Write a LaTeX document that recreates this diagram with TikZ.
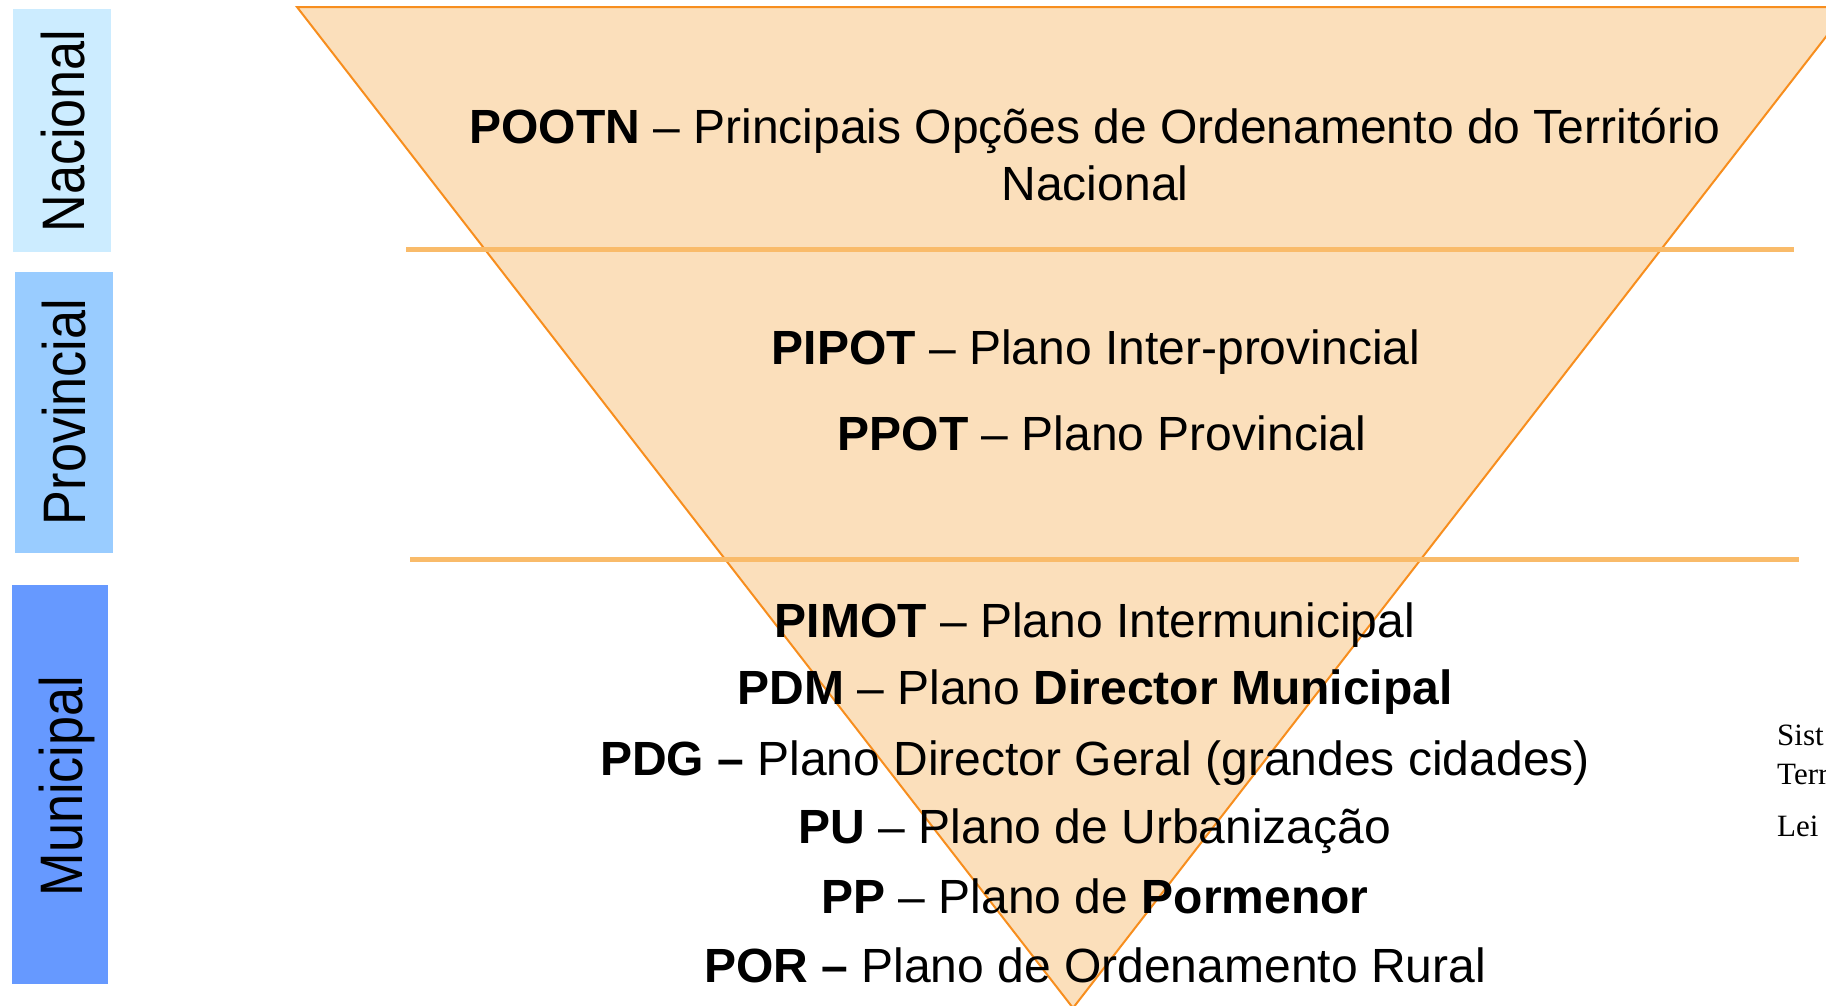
\documentclass[tikz,border=0pt]{standalone}
\usepackage{fontspec}
\setmainfont{Liberation Sans}
\newfontfamily\sidefont{Liberation Serif}
\usepackage{graphicx}
\definecolor{trifill}{RGB}{251,223,187}
\definecolor{tristroke}{RGB}{247,142,30}
\definecolor{sepline}{RGB}{249,187,106}
\definecolor{nacc}{RGB}{204,236,255}
\definecolor{provc}{RGB}{153,204,255}
\definecolor{munc}{RGB}{102,153,255}
\begin{document}
\begin{tikzpicture}[x=1pt,y=-1pt,
  txt/.style={font=\fontsize{48}{57}\selectfont, anchor=base, inner sep=0pt},
  lbl/.style={rotate=90, inner sep=0pt, font=\fontsize{60}{62}\selectfont},
  sepl/.style={draw=sepline, line width=5pt},
  side/.style={font=\sidefont\fontsize{31}{36}\selectfont, anchor=base west, inner sep=0pt}]
\useasboundingbox (0,0) rectangle (1826,1005);
\clip (0,0) rectangle (1826,1005);
% triangle
\draw[draw=tristroke, fill=trifill, line width=2pt, line join=miter] (297,7) -- (1849,7) -- (1073,1008) -- cycle;
% separator lines
\draw[sepl] (406,249) -- (1794,249);
\draw[sepl] (410,559) -- (1799,559);
% level boxes
\fill[nacc] (13,9) rectangle (111,252);
\fill[provc] (15,272) rectangle (113,553);
\fill[munc] (12,585) rectangle (108,984);
\node[lbl] (nac) at (63,131) {\scalebox{0.87}[1]{Nacional}};
\node[lbl] (prov) at (64,412) {\scalebox{0.87}[1]{Provincial}};
\node[lbl] (mun) at (67,786) {\scalebox{0.87}[1]{Municipal}};
% texts
\node[txt] (t1) at (1095,143) {\textbf{POOTN} – Principais Opções de Ordenamento do Território};
\node[txt] (t1b) at (1095,200) {Nacional};
\node[txt] (t2) at (1096,364) {\textbf{PIPOT} – Plano Inter-provincial};
\node[txt] (t3) at (1102,450) {\textbf{PPOT} – Plano Provincial};
\node[txt] (t4) at (1095,637) {\textbf{PIMOT} – Plano Intermunicipal};
\node[txt] (t5) at (1095,704) {\textbf{PDM} – Plano \textbf{Director Municipal}};
\node[txt] (t6) at (1095,775) {\textbf{PDG –} Plano Director Geral (grandes cidades)};
\node[txt] (t7) at (1095,843) {\textbf{PU} – Plano de Urbanização};
\node[txt] (t8) at (1095,913) {\textbf{PP} – Plano de \textbf{Pormenor}};
\node[txt] (t9) at (1095,982) {\textbf{POR –} Plano de Ordenamento Rural};
% cut-off side text
\node[side] (s1) at (1777,745) {Sist};
\node[side] (s2) at (1777,784) {Terr};
\node[side] (s3) at (1777,836) {Lei};
\end{tikzpicture}
\end{document}
